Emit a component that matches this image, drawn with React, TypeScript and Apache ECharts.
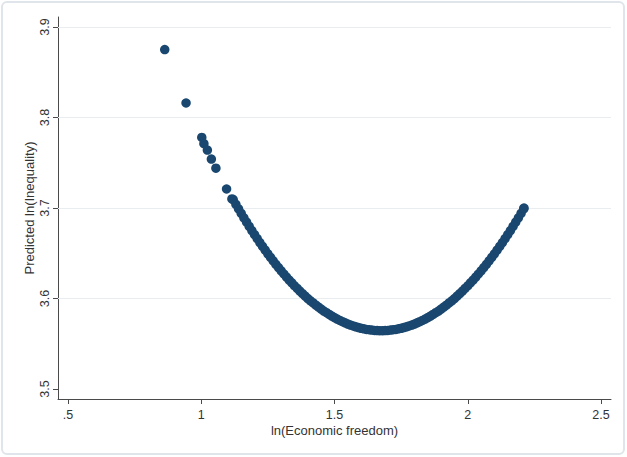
import React, { useEffect, useRef } from "react";
import * as echarts from "echarts";

// Isolated low-freedom observations (ln economic freedom, predicted ln inequality)
const sparseX = [0.863, 0.943, 1.002, 1.010, 1.023, 1.038, 1.055, 1.095, 1.115];
const sparseY = [3.875, 3.816, 3.778, 3.771, 3.764, 3.754, 3.744, 3.721, 3.710];

// Dense band of observations along the fitted curve
const denseX = [
  1.12, 1.13, 1.14, 1.15, 1.16, 1.17, 1.18, 1.19, 1.2, 1.21, 1.22, 1.23, 1.24, 1.25, 1.26, 1.27, 1.28, 1.29,
  1.3, 1.31, 1.32, 1.33, 1.34, 1.35, 1.36, 1.37, 1.38, 1.39, 1.4, 1.41, 1.42, 1.43, 1.44, 1.45, 1.46, 1.47,
  1.48, 1.49, 1.5, 1.51, 1.52, 1.53, 1.54, 1.55, 1.56, 1.57, 1.58, 1.59, 1.6, 1.61, 1.62, 1.63, 1.64, 1.65,
  1.66, 1.67, 1.68, 1.69, 1.7, 1.71, 1.72, 1.73, 1.74, 1.75, 1.76, 1.77, 1.78, 1.79, 1.8, 1.81, 1.82, 1.83,
  1.84, 1.85, 1.86, 1.87, 1.88, 1.89, 1.9, 1.91, 1.92, 1.93, 1.94, 1.95, 1.96, 1.97, 1.98, 1.99, 2.0, 2.01,
  2.02, 2.03, 2.04, 2.05, 2.06, 2.07, 2.08, 2.09, 2.1, 2.11, 2.12, 2.13, 2.14, 2.15, 2.16, 2.17, 2.18, 2.19,
  2.2, 2.21,
];
const denseY = [
  3.7093, 3.7041, 3.699, 3.694, 3.6892, 3.6844, 3.6797, 3.6751, 3.6705, 3.6661, 3.6618, 3.6576, 3.6534, 3.6494,
  3.6454, 3.6416, 3.6378, 3.6342, 3.6306, 3.6271, 3.6237, 3.6204, 3.6173, 3.6141, 3.6111, 3.6082, 3.6054, 3.6027,
  3.6, 3.5975, 3.5951, 3.5927, 3.5905, 3.5883, 3.5862, 3.5843, 3.5824, 3.5806, 3.5789, 3.5773, 3.5758, 3.5744,
  3.5731, 3.5718, 3.5707, 3.5697, 3.5687, 3.5679, 3.5671, 3.5665, 3.5659, 3.5655, 3.5651, 3.5648, 3.5646, 3.5645,
  3.5645, 3.5646, 3.5648, 3.5651, 3.5655, 3.5659, 3.5665, 3.5671, 3.5679, 3.5687, 3.5697, 3.5707, 3.5718, 3.5731,
  3.5744, 3.5758, 3.5773, 3.5789, 3.5806, 3.5824, 3.5843, 3.5862, 3.5883, 3.5905, 3.5927, 3.5951, 3.5975, 3.6,
  3.6027, 3.6054, 3.6082, 3.6111, 3.6141, 3.6173, 3.6204, 3.6237, 3.6271, 3.6306, 3.6342, 3.6378, 3.6416, 3.6454,
  3.6494, 3.6534, 3.6576, 3.6618, 3.6661, 3.6705, 3.6751, 3.6797, 3.6844, 3.6892, 3.694, 3.699,
];
const endPointX = [2.211];
const endPointY = [3.7];

const xTicks = [0.5, 1, 1.5, 2, 2.5];
const xTickLabels = [".5", "1", "1.5", "2", "2.5"];
const yTicks = [3.5, 3.6, 3.7, 3.8, 3.9];
const yTickLabels = ["3.5", "3.6", "3.7", "3.8", "3.9"];
const yGridLines = [3.6, 3.7, 3.8, 3.9];

const xTitle = "ln(Economic freedom)";
const yTitle = "Predicted ln(Inequality)";

export default function App() {
  const ref = useRef<HTMLDivElement>(null);

  useEffect(() => {
    if (!ref.current) return;
    const chart = echarts.init(ref.current, null, { renderer: "svg" });
    const points: number[][] = [];
    sparseX.forEach((x, i) => points.push([x, sparseY[i]]));
    denseX.forEach((x, i) => points.push([x, denseY[i]]));
    endPointX.forEach((x, i) => points.push([x, endPointY[i]]));

    const font = "'Liberation Sans', Arial, sans-serif";
    const axisColor = "#4a4a4a";
    const textColor = "#333333";

    chart.setOption({
      animation: false,
      backgroundColor: "#ffffff",
      textStyle: { fontFamily: font },
      graphic: [
        {
          type: "rect",
          shape: { x: 2, y: 2, width: 622, height: 452, r: 5 },
          style: { fill: "none", stroke: "#dfe5ea", lineWidth: 2 },
          silent: true,
          z: -1,
        },
      ],
      grid: { left: 58, right: 16, top: 17, bottom: 58, containLabel: false },
      xAxis: {
        type: "value",
        min: 0.4625,
        max: 2.5375,
        name: xTitle,
        nameLocation: "middle",
        nameGap: 25,
        nameMoveOverlap: false,
        nameTextStyle: { color: textColor, fontSize: 13, fontFamily: font },
        axisLine: { show: true, onZero: false, lineStyle: { color: axisColor, width: 1 } },
        axisTick: { show: true, length: 5, customValues: xTicks, lineStyle: { color: axisColor } },
        axisLabel: {
          show: true,
          customValues: xTicks,
          margin: 9,
          color: textColor,
          fontSize: 12.5,
          fontFamily: font,
          formatter: (v: number) => {
            const i = xTicks.findIndex((t) => Math.abs(t - v) < 1e-9);
            return i >= 0 ? xTickLabels[i] : "";
          },
        },
        splitLine: { show: false },
      },
      yAxis: {
        type: "value",
        min: 3.489,
        max: 3.911,
        name: yTitle,
        nameLocation: "middle",
        nameGap: 22,
        nameMoveOverlap: false,
        nameRotate: 90,
        nameTextStyle: { color: textColor, fontSize: 13, fontFamily: font },
        axisLine: { show: true, onZero: false, lineStyle: { color: axisColor, width: 1 } },
        axisTick: { show: true, length: 5, customValues: yTicks, lineStyle: { color: axisColor } },
        axisLabel: {
          show: true,
          customValues: yTicks,
          rotate: 90,
          margin: 7,
          color: textColor,
          fontSize: 12.5,
          fontFamily: font,
          formatter: (v: number) => {
            const i = yTicks.findIndex((t) => Math.abs(t - v) < 1e-9);
            return i >= 0 ? yTickLabels[i] : "";
          },
        },
        splitLine: { show: false },
      },
      series: [
        {
          type: "scatter",
          data: points,
          symbol: "circle",
          symbolSize: 9.5,
          itemStyle: { color: "#1a476f", opacity: 1 },
          z: 3,
          markLine: {
            silent: true,
            symbol: "none",
            label: { show: false },
            lineStyle: { color: "#e9edef", width: 1, type: "solid" },
            data: yGridLines.map((v) => ({ yAxis: v })),
            z: 1,
          },
        },
      ],
    });
    return () => chart.dispose();
  }, []);

  return (
    <div
      ref={ref}
      style={{ position: "fixed", left: 0, top: 0, width: 627, height: 457 }}
    />
  );
}
